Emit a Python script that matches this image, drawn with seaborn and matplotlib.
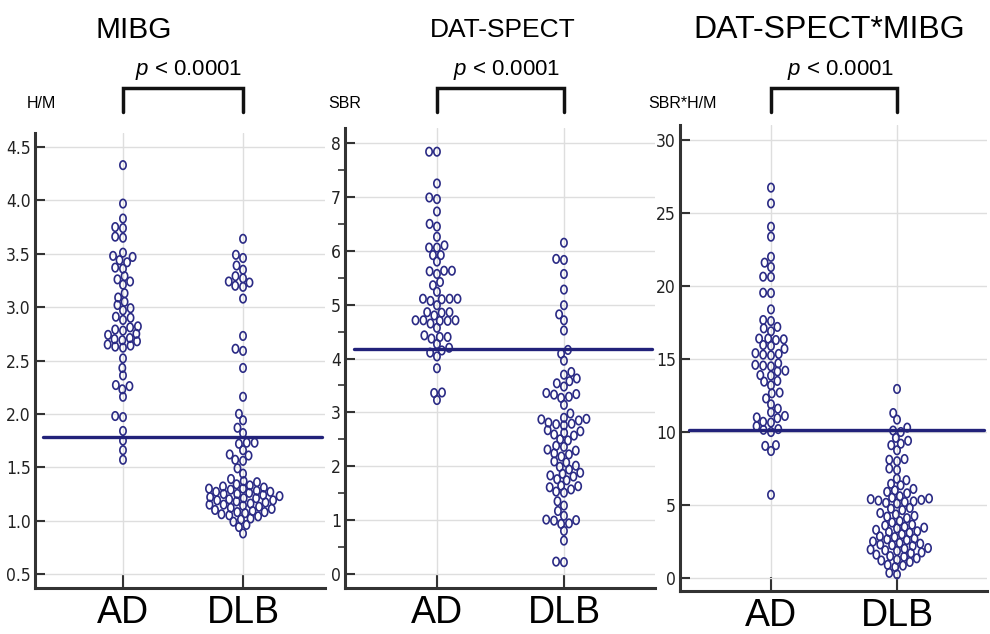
import numpy as np
import pandas as pd
import matplotlib
matplotlib.use("Agg")
import matplotlib.pyplot as plt
import matplotlib.transforms as mtransforms
from matplotlib import font_manager
from matplotlib.path import Path
from matplotlib.ticker import MultipleLocator, FormatStrFormatter
import seaborn as sns

# ---------------- data ----------------
groups = ["AD", "DLB"]
titles = ["MIBG", "DAT-SPECT", "DAT-SPECT*MIBG"]
ylabels = ["H/M", "SBR", "SBR*H/M"]
p_text = r"$p$ < 0.0001"
cutoffs = [1.78, 4.17, 10.17]

mibg_ad = [4.33, 3.97, 3.83, 3.75, 3.74, 3.66, 3.65, 3.51, 3.48, 3.47, 3.44, 3.42,
           3.37, 3.36, 3.29, 3.26, 3.24, 3.21, 3.13, 3.09, 3.05, 3.02, 2.99, 2.97,
           2.91, 2.90, 2.88, 2.82, 2.81, 2.79, 2.78, 2.75, 2.74, 2.71, 2.70, 2.69,
           2.68, 2.65, 2.64, 2.63, 2.62, 2.52, 2.43, 2.36, 2.27, 2.26, 2.23, 2.16,
           1.98, 1.97, 1.84, 1.75, 1.66, 1.57]
mibg_dlb = [3.64, 3.49, 3.46, 3.39, 3.35, 3.29, 3.27, 3.24, 3.23, 3.20, 3.19, 3.08,
            2.73, 2.61, 2.59, 2.43, 2.16, 2.00, 1.94, 1.87, 1.82, 1.73, 1.73, 1.72,
            1.66, 1.62, 1.61, 1.57, 1.56, 1.49, 1.44,
            1.39, 1.37, 1.36, 1.34, 1.33, 1.32, 1.31, 1.30, 1.30, 1.29, 1.28, 1.27,
            1.27, 1.26, 1.25, 1.25, 1.24, 1.23, 1.22, 1.21, 1.21, 1.20, 1.19, 1.19,
            1.18, 1.17, 1.16, 1.15, 1.15, 1.14, 1.13, 1.12, 1.11, 1.10, 1.09, 1.08,
            1.08, 1.07, 1.06, 1.05, 1.04, 1.02, 1.01, 0.99, 0.96, 0.94, 0.88]

sbr_ad = [7.84, 7.84, 7.25, 6.99, 6.96, 6.73, 6.50, 6.45, 6.26, 6.10, 6.06, 6.06,
          5.92, 5.92, 5.80, 5.63, 5.63, 5.62, 5.57, 5.42, 5.36, 5.24, 5.11, 5.11,
          5.11, 5.10, 5.07, 4.99, 4.86, 4.86, 4.85, 4.80, 4.71, 4.71, 4.71, 4.70,
          4.70, 4.65, 4.57, 4.43, 4.40, 4.40, 4.37, 4.27, 4.20, 4.15, 4.11, 4.04,
          3.82, 3.37, 3.36, 3.23]
sbr_dlb = [6.15, 5.85, 5.83, 5.57, 5.28, 4.99, 4.82, 4.71, 4.52, 4.16, 4.09, 3.96,
           3.75, 3.70, 3.63, 3.58, 3.54, 3.48, 3.36, 3.34, 3.33, 3.29, 3.27, 3.14,
           2.98, 2.90, 2.88, 2.87, 2.85, 2.81, 2.79, 2.78, 2.76, 2.67, 2.65, 2.62,
           2.59, 2.57, 2.50, 2.48, 2.38, 2.36, 2.31, 2.29, 2.24, 2.22, 2.18, 2.09,
           2.07, 2.01, 1.99, 1.94, 1.88, 1.86, 1.83, 1.81, 1.76, 1.74, 1.64, 1.63,
           1.61, 1.57, 1.53, 1.51, 1.35, 1.27, 1.17, 1.08, 1.01, 1.00, 0.99, 0.94,
           0.93, 0.80, 0.62, 0.23, 0.22]

prod_ad = [26.74, 25.66, 24.06, 23.38, 22.0, 21.6, 21.3, 20.64, 20.62, 19.54, 19.52,
           18.4, 17.67, 17.6, 17.2, 17.1, 16.9, 16.4, 16.4, 16.35, 16.3, 15.96, 15.9,
           15.7, 15.4, 15.35, 15.3, 15.25, 14.7, 14.6, 14.55, 14.5, 14.2, 14.15, 13.9,
           13.86, 13.5, 13.45, 13.2, 12.7, 12.65, 12.3, 11.9, 11.6, 11.35, 11.1, 11.0,
           10.95, 10.7, 10.65, 10.4, 10.2, 10.15, 10.0, 9.1, 9.05, 8.7, 5.7]
prod_dlb = [12.95, 11.3, 10.85, 10.3, 10.1, 10.0, 9.6, 9.4, 9.2, 9.1, 8.75, 8.15, 8.1,
            8.0, 7.5, 7.4, 6.8, 6.7, 6.45, 6.35, 6.1, 6.0, 5.9, 5.8, 5.6, 5.5, 5.45,
            5.4, 5.35, 5.3, 5.25, 5.2, 5.15, 5.1, 4.8, 4.75, 4.65, 4.45, 4.35, 4.25,
            4.2, 4.1, 3.9, 3.8, 3.65, 3.6, 3.5, 3.45, 3.4, 3.3, 3.2, 3.15, 3.1, 3.0,
            2.85, 2.8, 2.7, 2.65, 2.6, 2.5, 2.4, 2.35, 2.3, 2.25, 2.2, 2.05, 2.0,
            1.95, 1.9, 1.85, 1.75, 1.7, 1.6, 1.5, 1.45, 1.35, 1.25, 1.2, 1.1, 0.9,
            0.85, 0.75, 0.35, 0.25]

panel_data = [(mibg_ad, mibg_dlb), (sbr_ad, sbr_dlb), (prod_ad, prod_dlb)]

# ---------------- style ----------------
sns.set_theme(style="white")
plt.rcParams["font.family"] = ["Liberation Sans", "DejaVu Sans"]
plt.rcParams["mathtext.fontset"] = "custom"
plt.rcParams["mathtext.it"] = "Liberation Sans:italic"
plt.rcParams["mathtext.rm"] = "Liberation Sans"

NAVY = "#2b2b85"
LINE = "#22227a"
GRID = "#dedede"
SPINE = "#333333"

# pick a narrow face for the tick numbers if one is installed
_names = {(f.name, f.stretch) for f in font_manager.fontManager.ttflist}
if any(n == "Liberation Sans Narrow" for n, s in _names):
    TICK_FONT = dict(family="Liberation Sans Narrow", size=14)
elif ("DejaVu Sans", "condensed") in _names:
    TICK_FONT = dict(family="DejaVu Sans", stretch="condensed", size=12.5)
else:
    TICK_FONT = dict(family="Liberation Sans", size=11.5)

t = np.linspace(0, 2 * np.pi, 48)
ellipse = Path(np.column_stack([0.37 * np.cos(t), 0.5 * np.sin(t)]), closed=True)
SWARM_SIZE = 4.2     # spacing of the swarm (points)
MARK_SIZE = 6.1      # drawn height of the ellipse markers (points)

W, H = 990, 634
fig = plt.figure(figsize=(W / 100, H / 100), dpi=100)

# pixel boxes (left, right, top, bottom)
boxes = [(35, 325, 133, 588), (345, 655, 128, 588), (680, 987, 125, 591)]
ylims = [(0.369, 4.631), (-0.26, 8.28), (-0.89, 31.03)]
xlims = [(-0.733, 1.683), (-0.724, 1.717), (-0.722, 1.714)]
majors = [0.5, 1, 5]
fmts = ["%.1f", "%d", "%d"]
title_x = [134, 503, 829]
title_size = [21.5, 19, 23]
ylab_x = [27, 328, 648]

axes = []
for i in range(3):
    l, r, tp, b = boxes[i]
    ax = fig.add_axes([l / W, 1 - b / H, (r - l) / W, (b - tp) / H])
    axes.append(ax)
    ad, dlb = panel_data[i]
    df = pd.DataFrame({"group": ["AD"] * len(ad) + ["DLB"] * len(dlb),
                       "value": list(ad) + list(dlb)})
    sns.swarmplot(data=df, x="group", y="value", order=groups, ax=ax,
                  color=NAVY, marker=ellipse, size=SWARM_SIZE, linewidth=1.2,
                  edgecolor=NAVY, zorder=3)
    for c in ax.collections:
        c.set_facecolor("none")
        c.set_edgecolor(NAVY)
        c.set_linewidth(1.2)
    ax.set_xlim(*xlims[i])
    ax.set_ylim(*ylims[i])
    ax.yaxis.set_major_locator(MultipleLocator(majors[i]))
    ax.yaxis.set_major_formatter(FormatStrFormatter(fmts[i]))
    if i == 1:
        ax.yaxis.set_minor_locator(MultipleLocator(0.5))
        ax.tick_params(axis="y", which="minor", direction="out", length=5,
                       width=1.2, color=SPINE, left=True)
    ax.set_xlabel("")
    ax.set_ylabel("")
    ax.grid(True, which="major", color=GRID, lw=1.0)
    ax.set_axisbelow(True)
    for s in ["top", "right"]:
        ax.spines[s].set_visible(False)
    for s in ["left", "bottom"]:
        ax.spines[s].set_color(SPINE)
        ax.spines[s].set_linewidth(2.2)
    ax.tick_params(axis="y", which="major", direction="in", length=7, width=1.5,
                   color=SPINE, pad=3, left=True)
    ax.tick_params(axis="x", direction="in", length=10, width=1.5, color=SPINE,
                   labelsize=27, pad=5, bottom=True)
    for lab in ax.get_yticklabels():
        lab.set_fontproperties(font_manager.FontProperties(**TICK_FONT))
        lab.set_color("#222222")
    for lab in ax.get_xticklabels():
        lab.set_color("black")
    ax.axhline(cutoffs[i], xmin=0.028, xmax=0.99, color=LINE, lw=2.4, zorder=4)

    # bracket + p value
    trans = mtransforms.blended_transform_factory(ax.transData, fig.transFigure)
    ax.plot([0, 0, 1, 1], [1 - 112 / H, 1 - 88 / H, 1 - 88 / H, 1 - 112 / H],
            transform=trans, clip_on=False, color="#111111", lw=2.5,
            solid_joinstyle="miter")
    ax.text(0.55, 1 - 70 / H, p_text, transform=trans, ha="center", va="center",
            fontsize=16, color="black")

    fig.text(title_x[i] / W, 1 - 30 / H, titles[i], ha="center", va="center",
             fontsize=title_size[i], color="black")
    fig.text(ylab_x[i] / W, 1 - 104 / H, ylabels[i], ha="left", va="center",
             fontsize=11.5, color="black")

# let seaborn lay out the swarms at the small spacing, then keep those
# positions and draw the markers at their full (taller) size
fig.canvas.draw()
for ax in axes:
    for c in ax.collections:
        if "draw" in c.__dict__:
            del c.draw
        c.set_sizes([MARK_SIZE ** 2])

fig.savefig("out.png", dpi=100)
